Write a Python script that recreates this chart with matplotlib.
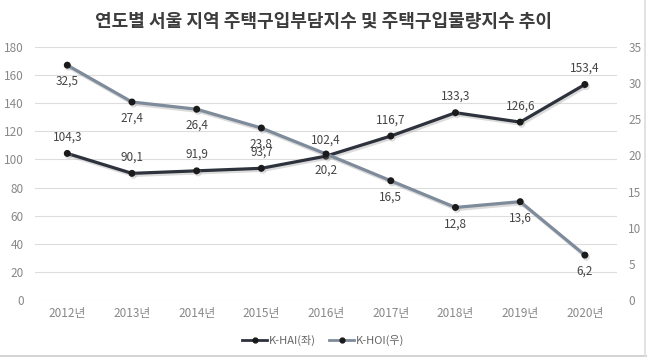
import matplotlib
matplotlib.use("Agg")
import matplotlib.pyplot as plt
import matplotlib.patheffects as pe
from matplotlib.lines import Line2D

plt.rcParams['font.family'] = ['Noto Sans CJK KR', 'DejaVu Sans']

# 데이터
years = ['2012년', '2013년', '2014년', '2015년', '2016년', '2017년', '2018년', '2019년', '2020년']
k_hai = [104.3, 90.1, 91.9, 93.7, 102.4, 116.7, 133.3, 126.6, 153.4]
k_hoi = [32.5, 27.4, 26.4, 23.8, 20.2, 16.5, 12.8, 13.6, 6.2]
left_ticks = [0, 20, 40, 60, 80, 100, 120, 140, 160, 180]
right_ticks = [0, 5, 10, 15, 20, 25, 30, 35]

hai_color = '#2d323d'
hoi_color = '#7e8b9b'
tick_color = '#888888'

fig = plt.figure(figsize=(6.47, 3.57), dpi=100)
ax = fig.add_axes([0.054, 0.160, 0.900, 0.708])
ax2 = ax.twinx()

x = list(range(len(years)))
shadow = [pe.SimpleLineShadow(offset=(1, -1.5), shadow_color='#999999', alpha=0.35), pe.Normal()]

ax.plot(x, k_hai, color=hai_color, lw=2.3, marker='o', ms=4,
        mfc='#1a1a1a', mec='#1a1a1a', path_effects=shadow, zorder=3)
ax2.plot(x, k_hoi, color=hoi_color, lw=2.3, marker='o', ms=4,
         mfc='#1a1a1a', mec='#1a1a1a', path_effects=shadow, zorder=3)

for xi, v in zip(x, k_hai):
    ax.annotate(f'{v:.1f}'.replace('.', ','), (xi, v), xytext=(0, 7), textcoords='offset points',
                ha='center', va='bottom', fontsize=8.5, color='#444444')
for xi, v in zip(x, k_hoi):
    ax2.annotate(f'{v:.1f}'.replace('.', ','), (xi, v), xytext=(0, -7), textcoords='offset points',
                 ha='center', va='top', fontsize=8.5, color='#444444')

ax.set_xlim(-0.5, len(years) - 0.5)
ax.set_ylim(0, 180)
ax2.set_ylim(0, 35)
ax.set_yticks(left_ticks)
ax2.set_yticks(right_ticks)
ax.set_xticks(x)
ax.set_xticklabels(years)

ax.grid(axis='y', color='#dddddd', lw=0.8)
ax.set_axisbelow(True)
for a in (ax, ax2):
    for s in a.spines.values():
        s.set_visible(False)
    a.tick_params(length=0, colors=tick_color, labelsize=8.5)
ax.tick_params(axis='y', pad=8)
ax2.tick_params(axis='y', pad=8)
ax.tick_params(axis='x', pad=5)

fig.suptitle('연도별 서울 지역 주택구입부담지수 및 주택구입물량지수 추이',
             y=0.965, fontsize=13, fontweight='bold', color='#3c3c3c')

handles = [Line2D([], [], color=hai_color, lw=2, marker='o', ms=3.5, mfc='#1a1a1a', mec='#1a1a1a'),
           Line2D([], [], color=hoi_color, lw=2, marker='o', ms=3.5, mfc='#1a1a1a', mec='#1a1a1a')]
fig.legend(handles, ['K-HAI(좌)', 'K-HOI(우)'], loc='center', bbox_to_anchor=(0.5, 0.045),
           ncol=2, frameon=False, fontsize=8, labelcolor='#666666',
           handlelength=2.2, handletextpad=0.2, columnspacing=1.2)

# 오른쪽, 아래쪽 테두리
fig.add_artist(Line2D([0, 1], [0.003, 0.003], color='#cccccc', lw=1.2, transform=fig.transFigure))
fig.add_artist(Line2D([0.997, 0.997], [0, 1], color='#dddddd', lw=1.2, transform=fig.transFigure))

fig.savefig('out.png', dpi=100)
